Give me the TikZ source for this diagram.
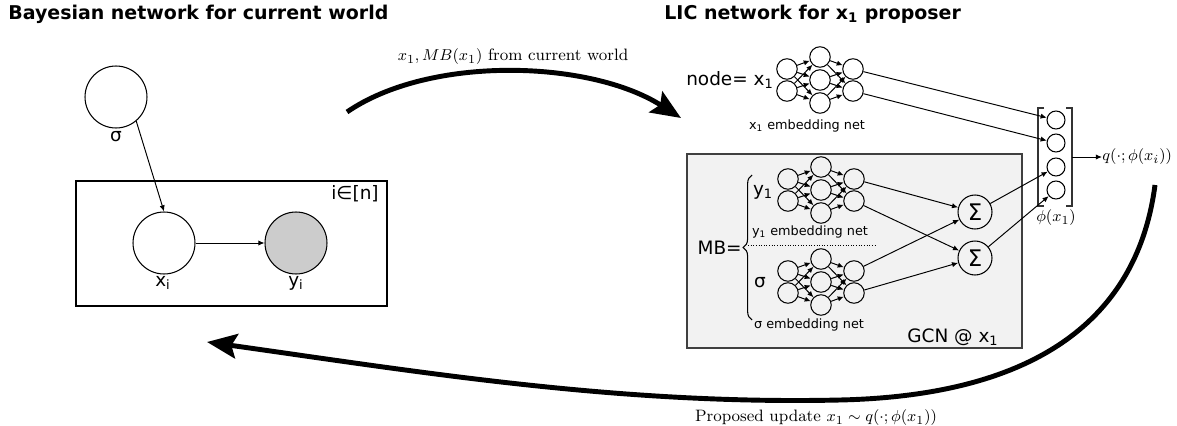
\documentclass[tikz,border=0pt]{standalone}
\usepackage{amsmath}
\usepackage{fontspec}
\setsansfont{DejaVu Sans}
\usetikzlibrary{arrows.meta,positioning,calc,decorations.pathreplacing}

\tikzset{
  titletext/.style={font=\sffamily\bfseries\fontsize{10.8}{13}\selectfont,inner sep=0pt},
  sflabel/.style={font=\sffamily\fontsize{10.5}{12}\selectfont,inner sep=0pt},
  smalllabel/.style={font=\sffamily\fontsize{7.3}{9}\selectfont,inner sep=0pt},
  mathlbl/.style={font=\fontsize{9.4}{11}\selectfont,inner sep=0pt},
  bnode/.style={circle,draw,line width=0.6pt,minimum size=1.24cm,inner sep=0pt},
  neuron/.style={circle,draw,line width=0.6pt,minimum size=0.41cm,inner sep=0pt},
  vecnode/.style={circle,draw,line width=0.6pt,minimum size=0.36cm,inner sep=0pt},
  sumnode/.style={circle,draw,line width=0.6pt,minimum size=0.68cm,inner sep=0pt,
    font=\sffamily\fontsize{13}{14}\selectfont},
  edge/.style={line width=0.55pt,-{Latex[length=3.5pt,width=3pt]}},
  bigarrow/.style={line width=2.8pt,-{Stealth[length=17pt,width=14pt,inset=3pt]}}
}

\begin{document}
\begin{tikzpicture}[x=0.02cm,y=-0.02cm]
  \useasboundingbox (0,0) rectangle (1177,426);

  % titles
  \node[titletext,anchor=west] (bntitle) at (8,14) {Bayesian network for current world};
  \node[titletext,anchor=west] (lictitle) at (664,14) {LIC network for x\textsubscript{1} proposer};

  % Bayesian network: plate first
  \draw[line width=0.65pt] (76,181) rectangle (387,306);
  \node[sflabel] (platelbl) at (355,194) {i∈[n]};
  \node[bnode] (sigma) at (116,97) {};
  \node[bnode] (xi) at (164,243) {};
  \node[bnode,fill=black!20] (yi) at (296,243) {};
  \node[sflabel] (sigmalbl) at (116,137) {σ};
  \node[sflabel] (xilbl) at (163,283) {x\textsubscript{i}};
  \node[sflabel] (yilbl) at (296,283) {y\textsubscript{i}};
  \draw[edge] (sigma.-50) -- (xi.north);
  \draw[edge] (xi) -- (yi);

  % GCN box
  \draw[fill=black!5,draw=black!75,line width=0.7pt] (687,154) rectangle (1022,348);
  \node[sflabel] (gcnlbl) at (953,337) {GCN @ x\textsubscript{1}};
  \node[sflabel,anchor=east] (mblbl) at (742,248) {MB=};
  \draw[line width=0.6pt,decorate,decoration={brace,amplitude=5pt}] (752,320) -- (752,175);
  \node[sflabel] (ylbl) at (763,192) {y\textsubscript{1}};
  \node[sflabel] (slbl) at (760,283) {σ};
  \node[sflabel,anchor=east] (nodelbl) at (774,80) {node= x\textsubscript{1}};
  \node[smalllabel] (enetlbl) at (807,126) {x\textsubscript{1} embedding net};
  \node[smalllabel] (ynetlbl) at (810,232) {y\textsubscript{1} embedding net};
  \node[smalllabel] (snetlbl) at (809,325) {σ embedding net};
  \draw[densely dotted,line width=0.5pt] (748,245) -- (877,245);

  % the three embedding nets (2-3-2)
  \foreach \net/\cx/\cy in {e/820/80, y/821/190, s/821/282}{
    \node[neuron] (\net-a1) at (\cx-33,\cy-11) {};
    \node[neuron] (\net-a2) at (\cx-33,\cy+11) {};
    \node[neuron] (\net-b1) at (\cx,\cy-23) {};
    \node[neuron] (\net-b2) at (\cx,\cy) {};
    \node[neuron] (\net-b3) at (\cx,\cy+23) {};
    \node[neuron] (\net-c1) at (\cx+33,\cy-11) {};
    \node[neuron] (\net-c2) at (\cx+33,\cy+11) {};
    \foreach \i in {1,2} \foreach \j in {1,2,3} {
      \draw[edge] (\net-a\i) -- (\net-b\j);
      \draw[edge] (\net-b\j) -- (\net-c\i);
    }
  }

  % sums
  \node[sumnode] (sum1) at (975,212) {Σ};
  \node[sumnode] (sum2) at (975,258) {Σ};
  \draw[edge] (y-c1) -- (sum1);
  \draw[edge] (y-c2) -- (sum2);
  \draw[edge] (s-c1) -- (sum1);
  \draw[edge] (s-c2) -- (sum2);

  % phi vector
  \node[vecnode] (phi1) at (1056,120) {};
  \node[vecnode] (phi2) at (1056,143) {};
  \node[vecnode] (phi3) at (1056,167) {};
  \node[vecnode] (phi4) at (1056,190) {};
  \draw[line width=0.8pt,draw=black!80] (1044,108) -- (1038,108) -- (1038,206) -- (1044,206);
  \draw[line width=0.8pt,draw=black!80] (1066,108) -- (1072,108) -- (1072,206) -- (1066,206);
  \node[mathlbl] (philbl) at (1056,218) {$\phi(x_1)$};
  \draw[edge] (e-c1) -- (phi1);
  \draw[edge] (e-c2) -- (phi2);
  \draw[edge] (sum1) -- (phi3);
  \draw[edge] (sum2) -- (phi4);
  \coordinate (vecout) at (1072,157);
  \node[mathlbl,anchor=west] (qlbl) at (1102,157) {$q(\cdot;\phi(x_i))$};
  \draw[edge] (vecout) -- (qlbl);

  % big arrows between the two halves
  \coordinate (bnout) at (347,112);
  \coordinate (licin) at (681,118);
  \draw[bigarrow] (bnout) .. controls (430,55) and (590,60) .. (licin);
  \node[mathlbl] (toplbl) at (513,57) {$x_1, MB(x_1)$ from current world};

  \coordinate (licout) at (1155,185);
  \coordinate (bnin) at (207,342);
  \draw[bigarrow] (licout) .. controls (1140,300) and (1060,395) .. (840,400)
                          .. controls (620,405) and (420,372) .. (bnin);
  \node[mathlbl] (botlbl) at (816,418) {Proposed update $x_1\sim q(\cdot;\phi(x_1))$};
\end{tikzpicture}
\end{document}
